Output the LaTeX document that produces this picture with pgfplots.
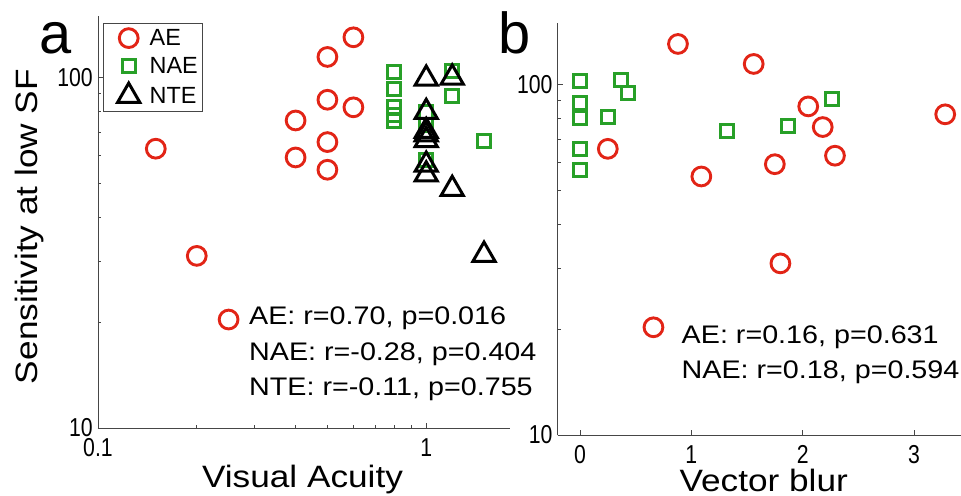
\documentclass[border=0pt]{standalone}
\usepackage{pgfplots}
\pgfplotsset{compat=1.18}
\usepackage{fontspec}
\setmainfont{Liberation Sans}
\newfontfamily\labelfont[FakeStretch=1.14]{Liberation Sans}
\newfontfamily\annfont[FakeStretch=1.13]{Liberation Sans}
\newfontfamily\tickfont[FakeStretch=0.82]{Liberation Sans}
\definecolor{aered}{RGB}{226,36,22}
\definecolor{naegreen}{RGB}{40,160,40}
\definecolor{axgray}{RGB}{70,70,70}

\tikzset{
  txt/.style={anchor=base west, inner sep=0pt, font=\annfont\fontsize{25.5}{25.5}\selectfont},
  lab/.style={inner sep=0pt, font=\labelfont\fontsize{31}{31}\selectfont},
}

\pgfplotsset{
  mk/.style={only marks,
    legend image code/.code={\path[draw=none,fill=none] (0bp,-11bp) rectangle (40bp,11bp);
      \draw[mark repeat=2,mark phase=2,##1] plot coordinates {(0bp,0bp)(20bp,0bp)(40bp,0bp)};}},
  aeplot/.style={mk, mark=o, color=aered, mark size=9.4bp, line width=2.9bp},
  naeplot/.style={mk, mark=square, color=naegreen, mark size=6.5bp, line width=3bp},
  nteplot/.style={mk, mark=triangle, color=black, mark size=12.8bp, line width=3bp},
  mypanel/.style={scale only axis, width=412bp, height=412bp, anchor=south west,
    axis x line*=bottom, axis y line*=left,
    ytick={10,100}, yticklabels={10,100},
    minor ytick={20,30,40,50,60,70,80,90},
    tick align=inside, major tick length=5bp, minor tick length=3bp,
    axis line style={-, axgray, line width=0.8bp},
    every tick/.append style={axgray, line width=0.8bp},
    every minor tick/.append style={axgray, line width=0.6bp},
    tick label style={font=\tickfont\fontsize{26}{26}\selectfont, inner sep=0pt, text=black},
    xticklabel style={yshift=-10bp},
    yticklabel style={xshift=-5bp},
    clip=false,
  },
}

\begin{document}
\begin{tikzpicture}
\path[use as bounding box] (0bp,0bp) rectangle (961bp,-496bp);

% ---------------- panel a ----------------
\begin{axis}[xmode=log, ymode=log, mypanel, at={(98bp,-428bp)},
  xmin=0.1, xmax=1.8, ymin=10, ymax=150,
  xtick={0.1,1}, xticklabels={0.1,1},
  minor xtick={0.2,0.3,0.4,0.5,0.6,0.7,0.8,0.9},
  legend style={at={(axis description cs:0.0129,0.9837)}, anchor=north west,
    draw=axgray, line width=0.8bp, fill=white,
    font=\fontsize{23.5}{23.5}\selectfont,
    inner xsep=5bp, inner ysep=4bp, row sep=6bp, column sep=1bp,
    nodes={inner sep=0pt}, cells={anchor=west}},
]
\addplot[aeplot] coordinates {
 (0.15,62.7) (0.2,31) (0.25,20.4) (0.4,75.5) (0.4,59.2)
 (0.5,114.6) (0.5,86.5) (0.5,65.5) (0.5,54.6) (0.6,130.4) (0.6,82.3)};
\addlegendentry{AE}
\addplot[naeplot] coordinates {
 (0.8,103.5) (0.8,92.8) (0.8,82.5) (0.8,78.4) (0.8,75.0)
 (1,80) (1,73.4) (1,58.3) (1.2,104.2) (1.2,88.4) (1.5,65.8)};
\addlegendentry{NAE}
\addplot[nteplot] coordinates {
 (1,99.3) (1,79.8) (1,70.4) (1,68.9) (1,66.3) (1,56.4) (1,52.9)
 (1.2,100) (1.2,48.1) (1.5,31.2)};
\addlegendentry{NTE}

\node[txt] at (axis description cs:0.3665,0.2512) {AE: r=0.70, p=0.016};
\node[txt] at (axis description cs:0.3665,0.1638) {NAE: r=-0.28, p=0.404};
\node[txt] at (axis description cs:0.3665,0.0777) {NTE: r=-0.11, p=0.755};

\node[lab, rotate=90, anchor=north] at (axis description cs:-0.2015,0.489) {Sensitivity at low SF};
\node[lab, anchor=north] at (axis description cs:0.4964,-0.0898) {Visual Acuity};
\node[anchor=base west, inner sep=0pt, font=\fontsize{58}{58}\selectfont] at (axis description cs:-0.1415,0.910) {a};
\end{axis}

% ---------------- panel b ----------------
\begin{axis}[ymode=log, mypanel, at={(557.7bp,-435bp)},
  xmin=-0.2, xmax=3.5, ymin=10, ymax=150,
  xtick={0,1,2,3}, xticklabels={0,1,2,3},
]
\addplot[aeplot] coordinates {
 (0.88,130.7) (1.56,114.6) (0.25,65.6) (2.05,86.7) (2.18,75.7) (2.29,62.7)
 (1.75,59.3) (1.09,54.7) (3.28,82.3) (1.8,30.9) (0.66,20.3)};
\addplot[naeplot] coordinates {
 (0,102.2) (0,88.6) (0,80.3) (0,65.6) (0,56.9) (0.37,103.3) (0.43,94.6)
 (0.25,80.6) (1.32,74) (1.87,76) (2.26,91.2)};

\node[txt] at (axis description cs:0.3005,0.2226) {AE: r=0.16, p=0.631};
\node[txt] at (axis description cs:0.3005,0.136) {NAE: r=0.18, p=0.594};

\node[lab, anchor=north] at (axis description cs:0.5,-0.0825) {Vector blur};
\node[anchor=base west, inner sep=0pt, font=\fontsize{58}{58}\selectfont] at (axis description cs:-0.145,0.9265) {b};
\end{axis}
\end{tikzpicture}
\end{document}
